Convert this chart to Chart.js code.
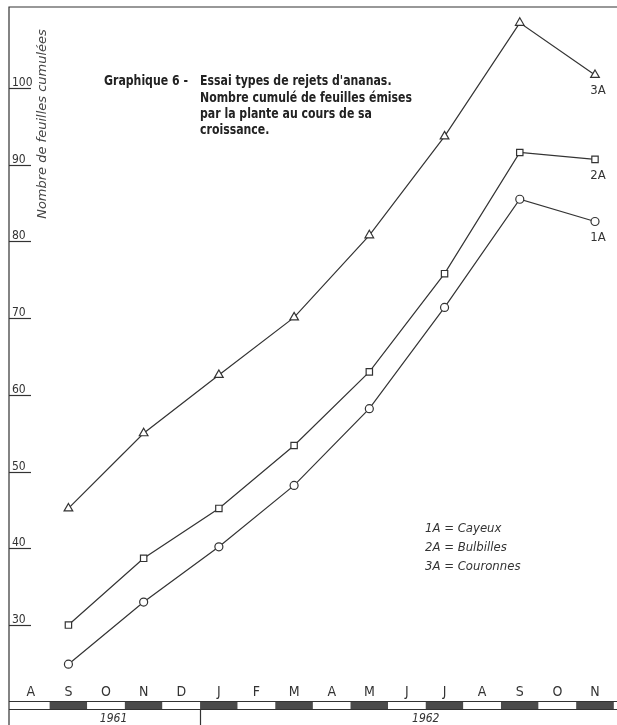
<!DOCTYPE html>
<html>
<head>
<meta charset="utf-8">
<title>Graphique 6</title>
<script src="https://cdn.jsdelivr.net/npm/chart.js@4.4.0/dist/chart.umd.min.js"></script>
<style>
  html, body { margin: 0; padding: 0; background: #fff; }
</style>
</head>
<body>
<canvas id="myChart" width="617" height="725"></canvas>
<script>
// months on the bottom axis (aug 1961 -> nov 1962)
const months = ['A', 'S', 'O', 'N', 'D', 'J', 'F', 'M', 'A', 'M', 'J', 'J', 'A', 'S', 'O', 'N'];
// index in months[] where a count was taken
const obsMonths = [1, 3, 5, 7, 9, 11, 13, 15];
const years = ['1961', '1962'];

// cumulated number of leaves
const cayeux = [24.9, 33.0, 40.2, 48.2, 58.2, 71.4, 85.5, 82.6];       // 1A
const bulbilles = [30.0, 38.7, 45.2, 53.4, 63.0, 75.8, 91.6, 90.7];    // 2A
const couronnes = [45.2, 55.0, 62.6, 70.1, 80.8, 93.7, 108.5, 101.7];  // 3A

const seriesNames = ['1A', '2A', '3A'];
const legendLines = ['1A = Cayeux', '2A = Bulbilles', '3A = Couronnes'];
const yTicks = [30, 40, 50, 60, 70, 80, 90, 100];

const titleLead = 'Graphique 6 -';
const titleLines = ['Essai types de rejets d\'ananas.', 'Nombre cumulé de feuilles émises', 'par la plante au cours de sa', 'croissance.'];
const yTitle = 'Nombre de feuilles cumulées';

const ink = '#333';

function toPoints(vals) {
  return vals.map((v, i) => ({ x: obsMonths[i], y: v }));
}

// everything that is not a dataset: frame, ticks, month band, texts
const paper = {
  id: 'paper',
  beforeDatasetsDraw(chart) {
    const ctx = chart.ctx;
    const a = chart.chartArea;
    const xs = chart.scales.x;
    const ys = chart.scales.y;
    ctx.save();
    ctx.strokeStyle = ink;
    ctx.lineWidth = 1.2;

    // frame (top + left)
    ctx.beginPath();
    ctx.moveTo(a.left, chart.height);
    ctx.lineTo(a.left, a.top);
    ctx.lineTo(chart.width, a.top);
    ctx.stroke();

    // y ticks, underlined numbers inside the plot
    ctx.font = '12px "DejaVu Sans Condensed", "DejaVu Sans"';
    ctx.fillStyle = ink;
    ctx.textAlign = 'left';
    ctx.textBaseline = 'alphabetic';
    yTicks.forEach(v => {
      const py = Math.round(ys.getPixelForValue(v)) + 0.5;
      ctx.beginPath();
      ctx.moveTo(a.left, py);
      ctx.lineTo(a.left + 22, py);
      ctx.stroke();
      ctx.fillText(String(v), a.left + 3, py - 3);
    });

    // month letters
    ctx.font = '14px "DejaVu Sans Condensed", "DejaVu Sans"';
    ctx.textAlign = 'center';
    ctx.textBaseline = 'middle';
    months.forEach((m, i) => {
      ctx.fillText(m, xs.getPixelForValue(i), a.bottom - 9);
    });

    // month band under the plot
    const bTop = a.bottom, bBot = a.bottom + 8;
    months.forEach((m, i) => {
      const x0 = Math.max(a.left, xs.getPixelForValue(i - 0.5));
      const x1 = Math.min(chart.width, xs.getPixelForValue(i + 0.5));
      ctx.fillStyle = (i % 2 === 1) ? '#4a4a4a' : '#fff';
      ctx.fillRect(x0, bTop, x1 - x0, bBot - bTop);
    });
    ctx.beginPath();
    ctx.moveTo(a.left, bTop + 0.5);
    ctx.lineTo(chart.width, bTop + 0.5);
    ctx.moveTo(a.left, bBot + 0.5);
    ctx.lineTo(chart.width, bBot + 0.5);
    // year split between D and J
    const split = Math.round(xs.getPixelForValue(4.5)) + 0.5;
    ctx.moveTo(split, bBot);
    ctx.lineTo(split, chart.height);
    ctx.stroke();

    ctx.fillStyle = ink;
    ctx.font = 'italic 12px "DejaVu Sans Condensed", "DejaVu Sans"';
    ctx.fillText(years[0], xs.getPixelForValue(2.2), bBot + 10);
    ctx.fillText(years[1], xs.getPixelForValue(10.5), bBot + 10);
    ctx.restore();
  },
  afterDraw(chart) {
    const ctx = chart.ctx;
    const ys = chart.scales.y;
    const xs = chart.scales.x;
    ctx.save();
    ctx.fillStyle = ink;

    // series names under the last point
    ctx.font = '13px "DejaVu Sans Condensed", "DejaVu Sans"';
    ctx.textAlign = 'center';
    ctx.textBaseline = 'middle';
    const lastX = xs.getPixelForValue(obsMonths[obsMonths.length - 1]) + 3;
    [cayeux, bulbilles, couronnes].forEach((s, k) => {
      ctx.fillText(seriesNames[k], lastX, ys.getPixelForValue(s[s.length - 1]) + 16);
    });

    // legend
    ctx.font = 'italic 13px "DejaVu Sans Condensed", "DejaVu Sans"';
    ctx.textAlign = 'left';
    legendLines.forEach((t, i) => {
      ctx.fillText(t, 425, 529 + i * 19);
    });

    // title block: tall narrow lettering, one squeeze factor for all lines
    ctx.save();
    ctx.fillStyle = '#222';
    ctx.font = 'bold 14px "DejaVu Sans Condensed", "DejaVu Sans"';
    const k = 212 / ctx.measureText(titleLines[1]).width;
    ctx.scale(k, 1);
    ctx.fillText(titleLead, 104 / k, 81);
    titleLines.forEach((t, i) => {
      ctx.fillText(t, 200 / k, [81, 98, 114, 130][i]);
    });
    ctx.restore();

    // y axis title
    ctx.fillStyle = '#444';
    ctx.font = 'italic 13px "DejaVu Sans", sans-serif';
    ctx.translate(43, 124);
    ctx.rotate(-Math.PI / 2);
    ctx.textAlign = 'center';
    ctx.fillText(yTitle, 0, 0, 196);
    ctx.restore();
  }
};

function makeSet(label, vals, style, r) {
  return {
    label: label,
    data: toPoints(vals),
    borderColor: ink,
    borderWidth: 1.2,
    tension: 0,
    pointStyle: style,
    pointRadius: r,
    pointBackgroundColor: '#fff',
    pointBorderColor: ink,
    pointBorderWidth: 1.2,
    clip: false
  };
}

const chart = new Chart(
  document.getElementById('myChart'),
  {
    type: 'line',
    data: {
      datasets: [
        makeSet(legendLines[0], cayeux, 'circle', 4),
        makeSet(legendLines[1], bulbilles, 'rect', 4.5),
        makeSet(legendLines[2], couronnes, 'triangle', 5)
      ]
    },
    options: {
      responsive: false,
      devicePixelRatio: 1,
      animation: false,
      layout: { padding: { left: 9, top: 7, right: 0, bottom: 24 } },
      scales: {
        x: { type: 'linear', min: -0.58, max: 15.42, display: false },
        y: { min: 20.1, max: 110.56, display: false }
      },
      plugins: {
        legend: { display: false },
        tooltip: { enabled: false }
      }
    },
    plugins: [paper]
  }
);
</script>
</body>
</html>
